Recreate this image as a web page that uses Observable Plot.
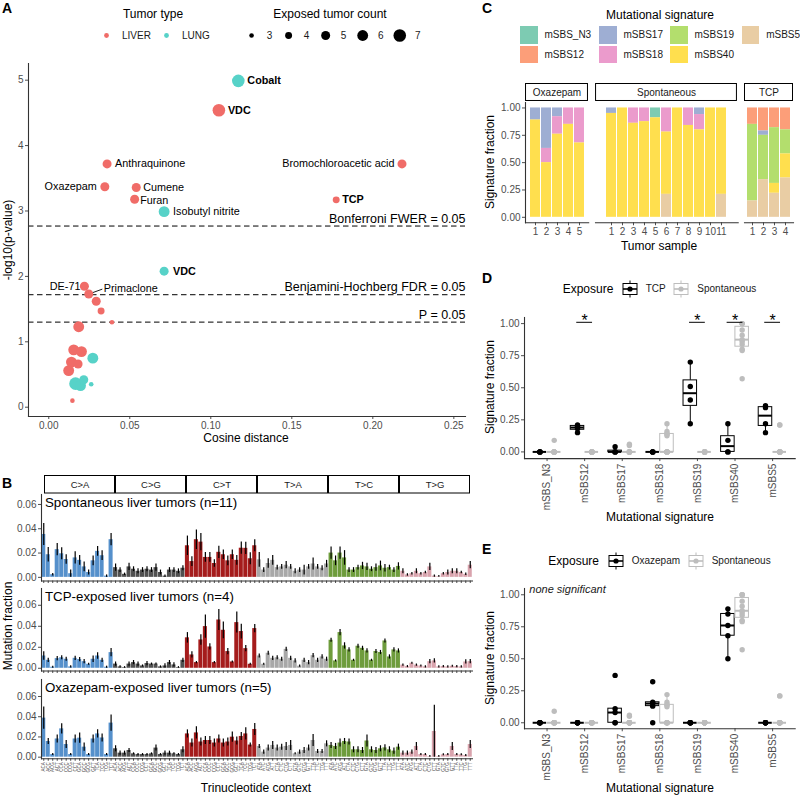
<!DOCTYPE html>
<html>
<head>
<meta charset="utf-8">
<script src="https://cdn.jsdelivr.net/npm/d3@7"></script>
<script src="https://cdn.jsdelivr.net/npm/@observablehq/plot@0.6"></script>
<style>
  html, body { margin: 0; padding: 0; background: #fff; }
  #fig { position: relative; width: 800px; height: 796px; overflow: hidden; font-family: "Liberation Sans", Arial, sans-serif; }
  #fig svg { position: absolute; overflow: visible; }
  .t { position: absolute; white-space: nowrap; line-height: 1; }
</style>
</head>
<body>
<div id="fig"></div>
<script>
// ---------- Panel A: agents, cosine distance vs. significance ----------
const agentLabel = ["Cobalt", "VDC", "Anthraquinone", "Oxazepam", "Cumene", "Furan", "Isobutyl nitrite", "TCP",
  "Bromochloroacetic acid", "VDC", "DE-71", "Primaclone", "", "", "", "", "", "", "", "", "", "", "", "", "", "", ""];
const tumorType = ["LUNG", "LIVER", "LIVER", "LIVER", "LIVER", "LIVER", "LUNG", "LIVER",
  "LIVER", "LUNG", "LIVER", "LIVER", "LIVER", "LIVER", "LIVER", "LIVER", "LIVER", "LIVER", "LIVER", "LIVER", "LIVER",
  "LUNG", "LUNG", "LUNG", "LUNG", "LUNG", "LIVER"];
const cosineDist = [0.117, 0.105, 0.036, 0.0346, 0.054, 0.053, 0.0712, 0.1774,
  0.218, 0.0712, 0.022, 0.0247, 0.0293, 0.0323, 0.039, 0.0185, 0.0154, 0.0202, 0.0140, 0.0181, 0.0123,
  0.0272, 0.0165, 0.0216, 0.0196, 0.0262, 0.0146];
const negLog10P = [4.99, 4.54, 3.72, 3.37, 3.36, 3.18, 2.99, 3.17,
  3.72, 2.08, 1.85, 1.73, 1.62, 1.47, 1.30, 1.23, 0.877, 0.85, 0.69, 0.66, 0.56,
  0.75, 0.36, 0.42, 0.33, 0.35, 0.10];
const exposedCount = [7, 7, 5, 5, 5, 5, 6, 4,
  5, 5, 5, 5, 5, 4, 3, 6, 6, 6, 6, 5, 6,
  6, 7, 5, 6, 3, 3];
const thresholdNames = ["Bonferroni FWER = 0.05", "Benjamini-Hochberg FDR = 0.05", "P = 0.05"];
const thresholdValues = [2.77, 1.72, 1.301];
const cosineTicks = [0, 0.05, 0.10, 0.15, 0.20, 0.25];
const pTicks = [0, 1, 2, 3, 4, 5];
const countLevels = [3, 4, 5, 6, 7];
const tumorTypes = ["LIVER", "LUNG"];

// ---------- Panel B: 96-channel trinucleotide spectra ----------
const mutTypes = ["C>A", "C>G", "C>T", "T>A", "T>C", "T>G"];
const flankBases = ["A", "C", "G", "T"];
const spontaneousFrac = [
  .0353, .0186, .0022, .0228, .0194, .0147, .0030, .0160, .0140, .0086, .0040, .0136, .0214, .0178, .0010, .0310,
  .0080, .0060, .0025, .0086, .0067, .0050, .0060, .0067, .0060, .0080, .0040, .0010, .0060, .0060, .0050, .0075,
  .0260, .0130, .0310, .0290, .0164, .0164, .0114, .0206, .0186, .0136, .0186, .0140, .0240, .0239, .0153, .0260,
  .0144, .0060, .0114, .0140, .0080, .0086, .0100, .0086, .0050, .0060, .0060, .0086, .0110, .0086, .0075, .0110,
  .0200, .0136, .0200, .0160, .0060, .0060, .0080, .0094, .0086, .0067, .0080, .0094, .0075, .0080, .0060, .0090,
  .0050, .0020, .0030, .0050, .0030, .0040, .0086, .0010, .0005, .0030, .0040, .0050, .0050, .0040, .0025, .0100];
const spontaneousErr = [
  .009, .006, .001, .005, .005, .004, .003, .005, .004, .004, .002, .004, .004, .004, .001, .005,
  .003, .002, .001, .003, .002, .002, .002, .002, .002, .003, .002, .001, .002, .002, .002, .002,
  .008, .004, .008, .007, .004, .004, .003, .005, .004, .004, .004, .004, .005, .005, .005, .005,
  .006, .002, .004, .004, .002, .002, .003, .002, .002, .002, .004, .002, .005, .002, .002, .003,
  .005, .004, .005, .006, .002, .002, .002, .003, .003, .002, .003, .004, .003, .002, .002, .003,
  .002, .001, .001, .002, .001, .001, .003, .001, .001, .001, .002, .002, .002, .001, .001, .003];
const tcpFrac = [
  .0117, .0076, .0010, .0092, .0100, .0086, .0013, .0095, .0083, .0063, .0038, .0086, .0117, .0076, .0010, .0149,
  .0040, .0013, .0006, .0040, .0054, .0040, .0022, .0045, .0040, .0040, .0013, .0022, .0054, .0032, .0006, .0076,
  .0290, .0127, .0054, .0270, .0397, .0203, .0054, .0460, .0362, .0159, .0060, .0435, .0350, .0187, .0038, .0378,
  .0117, .0038, .0143, .0095, .0100, .0086, .0180, .0095, .0070, .0020, .0076, .0054, .0120, .0076, .0108, .0086,
  .0267, .0070, .0340, .0213, .0175, .0076, .0210, .0190, .0165, .0076, .0160, .0150, .0260, .0108, .0175, .0165,
  .0030, .0016, .0048, .0030, .0022, .0013, .0063, .0070, .0013, .0016, .0013, .0019, .0016, .0013, .0060, .0063];
const tcpErr = [
  .004, .002, .001, .002, .002, .002, .001, .002, .002, .002, .001, .003, .003, .002, .001, .004,
  .002, .001, .001, .002, .002, .002, .001, .002, .001, .001, .001, .002, .002, .002, .001, .002,
  .005, .003, .001, .005, .011, .003, .001, .010, .008, .003, .001, .010, .007, .003, .001, .004,
  .002, .001, .002, .002, .002, .002, .002, .002, .002, .001, .002, .002, .002, .002, .002, .002,
  .002, .001, .003, .003, .002, .001, .002, .002, .002, .001, .002, .002, .002, .002, .002, .002,
  .001, .001, .001, .001, .001, .001, .002, .002, .001, .001, .001, .001, .001, .001, .002, .002];
const oxazepamFrac = [
  .0386, .0155, .0026, .0180, .0280, .0125, .0026, .0180, .0188, .0099, .0026, .0180, .0230, .0190, .0026, .0337,
  .0083, .0040, .0040, .0066, .0033, .0026, .0026, .0026, .0033, .0090, .0026, .0040, .0040, .0033, .0026, .0073,
  .0230, .0140, .0240, .0150, .0165, .0165, .0140, .0180, .0140, .0150, .0198, .0160, .0205, .0230, .0120, .0274,
  .0106, .0050, .0090, .0116, .0090, .0099, .0106, .0116, .0033, .0050, .0066, .0090, .0165, .0056, .0056, .0132,
  .0116, .0106, .0140, .0155, .0150, .0073, .0073, .0066, .0160, .0073, .0066, .0083, .0092, .0073, .0060, .0099,
  .0040, .0040, .0050, .0106, .0026, .0026, .0006, .0254, .0006, .0023, .0026, .0106, .0026, .0023, .0016, .0125];
const oxazepamErr = [
  .011, .003, .001, .004, .005, .004, .001, .004, .005, .004, .001, .004, .004, .004, .001, .008,
  .003, .002, .002, .002, .001, .001, .001, .001, .001, .003, .001, .002, .002, .001, .001, .003,
  .004, .004, .006, .004, .004, .004, .004, .004, .004, .004, .005, .004, .004, .006, .002, .006,
  .002, .002, .003, .004, .003, .003, .004, .005, .001, .002, .003, .003, .006, .002, .002, .003,
  .003, .003, .004, .003, .003, .003, .003, .003, .006, .003, .003, .003, .003, .003, .003, .003,
  .002, .002, .002, .004, .001, .001, .001, .026, .001, .001, .001, .004, .001, .001, .001, .004];
const spectrumTicks = [0, 0.02, 0.04, 0.06];

// ---------- Panels C-E: signature fractions per tumor ----------
const sigNames = ["mSBS_N3", "mSBS12", "mSBS17", "mSBS18", "mSBS19", "mSBS40", "mSBS5"];
// one row per tumor sample, columns in sigNames order
const oxazepamSig = [
  [0, 0, 0.11, 0, 0, 0.89, 0],
  [0, 0, 0.37, 0.13, 0, 0.50, 0],
  [0, 0, 0.08, 0.16, 0, 0.76, 0],
  [0, 0, 0, 0.15, 0, 0.85, 0],
  [0, 0, 0, 0.32, 0, 0.68, 0]];
const spontaneousSig = [
  [0, 0, 0.05, 0, 0, 0.95, 0],
  [0, 0, 0, 0, 0, 1.00, 0],
  [0, 0, 0, 0.14, 0, 0.86, 0],
  [0, 0, 0, 0.125, 0, 0.875, 0],
  [0.09, 0, 0, 0, 0, 0.91, 0],
  [0, 0, 0, 0.22, 0, 0.57, 0.21],
  [0, 0, 0, 0, 0, 1.00, 0],
  [0, 0, 0, 0.16, 0, 0.84, 0],
  [0, 0, 0.06, 0.14, 0, 0.80, 0],
  [0, 0, 0, 0, 0, 1.00, 0],
  [0, 0, 0, 0, 0, 0.79, 0.21]];
const tcpSig = [
  [0, 0.15, 0, 0, 0.70, 0, 0.15],
  [0, 0.21, 0.04, 0, 0.405, 0, 0.345],
  [0, 0.18, 0, 0, 0.51, 0.09, 0.22],
  [0, 0.20, 0, 0, 0.22, 0.22, 0.36]];
const fractionTicks = [0, 0.25, 0.5, 0.75, 1];
const significantTCP = ["mSBS12", "mSBS19", "mSBS40", "mSBS5"];
const significantOxazepam = [];

// ---------- styling ----------
const FONT = '"Liberation Sans", Arial, sans-serif';
const TICK = "#4d4d4d";
const AXIS = "#333";
const typeColors = ["#f06c68", "#57d2c8"];
const mutColors = ["#5590cb", "#505050", "#a51c1c", "#a8a8a8", "#6e9c3c", "#d9a3ad"];
const sigColors = ["#66C2A5", "#FC8D62", "#8DA0CB", "#E78AC3", "#A6D854", "#FFD92F", "#E5C494"];
const sigOpacity = 0.85;
const stackOrder = ["mSBS5", "mSBS40", "mSBS19", "mSBS18", "mSBS17", "mSBS12", "mSBS_N3"];
const GREY = "#bdbdbd";

const fig = document.getElementById("fig");

function text(str, x, y, o = {}) {
  const {anchor = "start", size = 12, weight = "normal", italic = false, color = "#000", rotate = 0} = o;
  const d = document.createElement("div");
  d.className = "t";
  d.textContent = str;
  const tx = anchor === "start" ? "0%" : anchor === "middle" ? "-50%" : "-100%";
  d.style.left = x + "px";
  d.style.top = y + "px";
  d.style.fontSize = size + "px";
  d.style.fontWeight = weight;
  d.style.color = color;
  if (italic) d.style.fontStyle = "italic";
  d.style.transform = `translate(${tx}, -50%)` + (rotate ? ` rotate(${rotate}deg)` : "");
  fig.appendChild(d);
  return d;
}

// Place a Plot so that its inner frame covers [x0,x1] x [y0,y1] on the page.
function place(spec, [x0, x1], [y0, y1], m = {}) {
  const {l = 0, r = 0, t = 0, b = 0} = m;
  const svg = Plot.plot({
    width: x1 - x0 + l + r,
    height: y1 - y0 + t + b,
    marginLeft: l, marginRight: r, marginTop: t, marginBottom: b,
    style: {fontFamily: FONT, fontSize: "10px", color: TICK, background: "transparent", overflow: "visible"},
    ...spec
  });
  svg.style.left = (x0 - l) + "px";
  svg.style.top = (y0 - t) + "px";
  svg.style.maxWidth = "none";
  fig.appendChild(svg);
  return svg;
}

const axisLines = () => [
  Plot.frame({anchor: "left", stroke: AXIS, strokeWidth: 1.1}),
  Plot.frame({anchor: "bottom", stroke: AXIS, strokeWidth: 1.1})
];

// ===================== Panel A =====================
text("A", 2, 8, {size: 14, weight: "bold"});
text("Tumor type", 153, 14, {anchor: "middle", size: 12});
text("Exposed tumor count", 330, 14, {anchor: "middle", size: 12});

const sizeScale = {type: "sqrt", domain: [3, 7], range: [2.3, 6.3]};

// legend keys drawn with the same colour and size scales
place({
  x: {domain: [0, 1], axis: null}, y: {domain: [0, 1], axis: null},
  color: {domain: tumorTypes, range: typeColors},
  marks: [
    Plot.dot(tumorTypes, {x: (d, i) => i, y: () => 0.5, r: 2.4, fill: d => d}),
    Plot.text(tumorTypes, {x: (d, i) => i, y: () => 0.5, text: d => d, dx: 15.5, textAnchor: "start", fontSize: 10, fill: "#1a1a1a"})
  ]
}, [106, 166], [25, 45]);
place({
  x: {domain: [3, 7], axis: null}, y: {domain: [0, 1], axis: null},
  r: sizeScale,
  marks: [
    Plot.dot(countLevels, {x: d => d, y: () => 0.5, r: d => d, fill: "#000"}),
    Plot.text(countLevels, {x: d => d, y: () => 0.5, text: d => String(d), dx: 18, textAnchor: "middle", fontSize: 10, fill: "#1a1a1a"})
  ]
}, [250.7, 399], [25, 45]);

const aRows = agentLabel.map((name, i) => ({name, type: tumorType[i], cos: cosineDist[i], p: negLog10P[i], n: exposedCount[i]}));
// where each agent name sits relative to its point
const labelPlacement = {
  0: {dx: 9, bold: true}, 1: {dx: 9, bold: true}, 2: {dx: 8}, 3: {dx: -8}, 4: {dx: 7, dy: 0.5},
  5: {dx: 5.5, dy: 1.5}, 6: {dx: 9}, 7: {dx: 6, bold: true}, 8: {dx: -7.5}, 9: {dx: 9, bold: true},
  10: {dx: -4}, 11: {dx: 15, dy: -6}
};
const leaderShape = {draw(context, l) { context.moveTo(0, 0); context.lineTo(0, -l); }};
const labelMarks = Object.entries(labelPlacement).map(([i, p]) =>
  Plot.text([aRows[+i]], {x: "cos", y: "p", text: "name", dx: p.dx, dy: p.dy || 0,
    textAnchor: p.dx < 0 ? "end" : "start", fontWeight: p.bold ? "bold" : "normal", fontSize: 10.8, fill: "#000"}));

place({
  x: {domain: [-0.0125, 0.2572]},
  y: {domain: [-0.142, 5.255]},
  r: sizeScale,
  color: {domain: tumorTypes, range: typeColors},
  marks: [
    Plot.ruleY(thresholdValues, {stroke: "#000", strokeWidth: 1, strokeDasharray: "5.5,3.5"}),
    Plot.text(thresholdNames, {y: thresholdValues, text: d => d, frameAnchor: "right", textAnchor: "end", dy: -7.5, fontSize: 12.5, fill: "#000"}),
    Plot.vector([aRows[11]], {x: "cos", y: "p", length: 14, rotate: 70, anchor: "start", shape: leaderShape, stroke: "#000", strokeWidth: 0.8}),
    Plot.dot(aRows, {x: "cos", y: "p", r: "n", fill: "type"}),
    ...labelMarks,
    Plot.axisX({ticks: cosineTicks, tickFormat: d3.format(".2f"), tickSize: 3, tickPadding: 2, label: null}),
    Plot.axisY({ticks: pTicks, tickFormat: d3.format("d"), tickSize: 3, tickPadding: 2, label: null}),
    ...axisLines()
  ]
}, [28, 465], [63, 416], {l: 28, r: 5, t: 5, b: 30});
text("-log10(p-value)", 8, 240, {anchor: "middle", size: 12, rotate: -90});
text("Cosine distance", 246, 438, {anchor: "middle", size: 12});

// ===================== Panel B =====================
text("B", 2, 483, {size: 14, weight: "bold"});
const contexts = mutTypes.flatMap(m => flankBases.flatMap(a => flankBases.map(b => `${a}[${m}]${b}`)));
const bX = [41.3, 472.3];

// strip labels for the six substitution classes
place({
  x: {type: "band", domain: mutTypes, padding: 0, axis: null},
  marks: [
    Plot.cell(mutTypes, {x: d => d, fill: "#fff", stroke: "#000", strokeWidth: 1, inset: 0.5}),
    Plot.text(mutTypes, {x: d => d, text: d => d, fontSize: 9.5, fill: "#1a1a1a"})
  ]
}, bX, [475, 493.5]);

function spectrum(vals, errs, yDomain, yRange, withLabels) {
  const rows = contexts.map((c, i) => ({c, type: mutTypes[Math.floor(i / 16)], v: vals[i],
    lo: Math.max(0, vals[i] - errs[i]), hi: vals[i] + errs[i]}));
  return place({
    x: {type: "band", domain: contexts, paddingInner: 0.1, paddingOuter: 0.05},
    y: {domain: yDomain},
    color: {domain: mutTypes, range: mutColors},
    marks: [
      Plot.barY(rows, {x: "c", y: "v", fill: "type"}),
      Plot.ruleX(rows, {x: "c", y1: "lo", y2: "hi", stroke: "#000", strokeWidth: 1.2}),
      Plot.axisY({ticks: spectrumTicks, tickFormat: d3.format(".2f"), tickSize: 3, tickPadding: 2, label: null}),
      Plot.axisX({tickSize: 2.5, tickPadding: 1, label: null, tickRotate: -90, fontSize: 4.5,
        tickFormat: withLabels ? (c => c[0] + c[2] + c[6]) : () => ""}),
      ...axisLines()
    ]
  }, bX, yRange, {l: 42, r: 8, t: 0, b: withLabels ? 20 : 6});
}
spectrum(spontaneousFrac, spontaneousErr, [-0.003, 0.0682], [493.5, 580], false);
spectrum(tcpFrac, tcpErr, [-0.0026, 0.0760], [587.5, 670], false);
spectrum(oxazepamFrac, oxazepamErr, [-0.0016, 0.0768], [679, 758.3], true);
text("Spontaneous liver tumors (n=11)", 45, 503, {size: 13.3});
text("TCP-exposed liver tumors (n=4)", 45, 597, {size: 13.3});
text("Oxazepam-exposed liver tumors (n=5)", 45, 688, {size: 13.3});
text("Mutation fraction", 8, 626, {anchor: "middle", size: 12, rotate: -90});
text("Trinucleotide context", 256, 788, {anchor: "middle", size: 12});

// ===================== Panel C =====================
text("C", 482, 8, {size: 14, weight: "bold"});
text("Mutational signature", 660, 15, {anchor: "middle", size: 12});
const legendC = [[520, 26], [520, 45.5], [599, 26], [599, 45.5], [670, 26], [670, 45.5], [741.7, 26]];
sigNames.forEach((s, i) => {
  const [x, y] = legendC[i];
  const k = document.createElement("div");
  k.style.cssText = `position:absolute;left:${x}px;top:${y}px;width:17.5px;height:17.5px;background:${sigColors[i]};opacity:${sigOpacity};`;
  fig.appendChild(k);
  text(s, x + 24.5, y + 9, {size: 10, color: "#1a1a1a"});
});

function sigFacet(name, mat, xRange, outer, withY) {
  const samples = mat.map((_, i) => String(i + 1));
  const rows = mat.flatMap((r, i) => sigNames.map((sig, j) => ({s: samples[i], sig, f: r[j]})));
  place({
    x: {type: "band", domain: [name], padding: 0, axis: null},
    marks: [
      Plot.cell([name], {x: d => d, fill: "#fff", stroke: "#000", strokeWidth: 1, inset: 0.5}),
      Plot.text([name], {x: d => d, text: d => d, fontSize: 10, fill: "#1a1a1a"})
    ]
  }, xRange, [83.3, 101.3]);
  place({
    x: {type: "band", domain: samples, paddingInner: 0.1, paddingOuter: outer},
    y: {domain: [-0.05, 1.05]},
    color: {domain: sigNames, range: sigColors},
    marks: [
      Plot.barY(rows, {x: "s", y: "f", fill: "sig", order: stackOrder, fillOpacity: sigOpacity}),
      Plot.axisX({tickSize: 3, tickPadding: 2, label: null, fontSize: 10}),
      ...(withY ? [Plot.axisY({ticks: fractionTicks, tickFormat: d3.format(".2f"), tickSize: 3, tickPadding: 2, label: null}),
        Plot.frame({anchor: "left", stroke: AXIS, strokeWidth: 1.1})] : [Plot.axisY({ticks: [], label: null})]),
      Plot.frame({anchor: "bottom", stroke: AXIS, strokeWidth: 1.1})
    ]
  }, xRange, [102.2, 222.5], {l: withY ? 30 : 0, r: 0, t: 0, b: 20});
}
sigFacet("Oxazepam", oxazepamSig, [524.5, 587.7], 0.24, true);
sigFacet("Spontaneous", spontaneousSig, [595, 737.7], 0.55, false);
sigFacet("TCP", tcpSig, [744.3, 793.3], 0.19, false);
text("Signature fraction", 490, 162, {anchor: "middle", size: 12, rotate: -90});
text("Tumor sample", 659, 246, {anchor: "middle", size: 12});

// ===================== Panels D & E =====================
function boxKey(cx, cy, color) {
  const ns = "http://www.w3.org/2000/svg";
  const s = document.createElementNS(ns, "svg");
  s.setAttribute("width", 18); s.setAttribute("height", 18);
  s.style.left = (cx - 9) + "px"; s.style.top = (cy - 9) + "px";
  s.innerHTML = `<line x1="9" x2="9" y1="0.5" y2="17.5" stroke="${color}" stroke-width="1"/>` +
    `<rect x="2" y="3.5" width="14" height="11" fill="#fff" stroke="${color}" stroke-width="1"/>` +
    `<line x1="2" x2="16" y1="9" y2="9" stroke="${color}" stroke-width="1.6"/>` +
    `<circle cx="9" cy="9" r="2.6" fill="${color}"/>`;
  fig.appendChild(s);
}

function boxStats(vals) {
  const s = vals.slice().sort(d3.ascending);
  const q1 = d3.quantileSorted(s, 0.25), med = d3.quantileSorted(s, 0.5), q3 = d3.quantileSorted(s, 0.75);
  const iqr = q3 - q1;
  return {q1, med, q3, lo: d3.min(s.filter(v => v >= q1 - 1.5 * iqr)), hi: d3.max(s.filter(v => v <= q3 + 1.5 * iqr))};
}

function boxPanel(groups, significant, yDomain, yRange) {
  const half = 0.18;
  const marks = [];
  for (const g of groups) {
    const boxes = sigNames.map((sig, j) => ({x: j + g.off, ...boxStats(g.mat.map(r => r[j]))}));
    marks.push(
      Plot.ruleX(boxes, {x: "x", y1: "lo", y2: "q1", stroke: g.color, strokeWidth: 1}),
      Plot.ruleX(boxes, {x: "x", y1: "q3", y2: "hi", stroke: g.color, strokeWidth: 1}),
      Plot.rect(boxes, {x1: d => d.x - half, x2: d => d.x + half, y1: "q1", y2: "q3", fill: "#fff", stroke: g.color, strokeWidth: 1}),
      Plot.ruleY(boxes, {y: "med", x1: d => d.x - half, x2: d => d.x + half, stroke: g.color, strokeWidth: 2})
    );
  }
  for (const g of groups) {
    const pts = g.mat.flatMap(r => r.map((v, j) => ({x: j + g.off, v})));
    marks.push(Plot.dot(pts, {x: "x", y: "v", r: 2.7, fill: g.color}));
  }
  marks.push(
    Plot.ruleY(significant, {y: () => 1.01, x1: d => sigNames.indexOf(d) - 0.21, x2: d => sigNames.indexOf(d) + 0.21, stroke: "#000", strokeWidth: 1}),
    Plot.text(significant, {x: d => sigNames.indexOf(d), y: () => 1.01, text: () => "*", dy: -1, fontSize: 16, fill: "#000"}),
    Plot.axisY({ticks: fractionTicks, tickFormat: d3.format(".2f"), tickSize: 3, tickPadding: 2, label: null}),
    Plot.axisX({ticks: d3.range(sigNames.length), tickFormat: i => sigNames[i], tickRotate: -90, tickSize: 3, tickPadding: 2, label: null, fontSize: 10}),
    ...axisLines()
  );
  place({x: {domain: [-0.6, 6.6]}, y: {domain: yDomain}, marks}, [524.3, 795], yRange, {l: 32, r: 3, t: 5, b: 55});
}

// Panel D
text("D", 482, 278, {size: 14, weight: "bold"});
text("Exposure", 562.7, 289.3, {size: 12});
boxKey(629.7, 289.3, "#000");
text("TCP", 645.7, 289.3, {size: 10, color: "#1a1a1a"});
boxKey(681.3, 289.3, GREY);
text("Spontaneous", 697.3, 289.3, {size: 10, color: "#1a1a1a"});
boxPanel([{mat: tcpSig, color: "#000", off: -0.19}, {mat: spontaneousSig, color: GREY, off: 0.19}],
  significantTCP, [-0.052, 1.0475], [316.6, 457.7]);
text("Signature fraction", 490, 387, {anchor: "middle", size: 12, rotate: -90});
text("Mutational signature", 660, 517, {anchor: "middle", size: 12});

// Panel E
text("E", 482, 549, {size: 14, weight: "bold"});
text("Exposure", 548.3, 561, {size: 12});
boxKey(615.5, 561, "#000");
text("Oxazepam", 631.7, 561, {size: 10, color: "#1a1a1a"});
boxKey(695.7, 561, GREY);
text("Spontaneous", 711.7, 561, {size: 10, color: "#1a1a1a"});
boxPanel([{mat: oxazepamSig, color: "#000", off: -0.19}, {mat: spontaneousSig, color: GREY, off: 0.19}],
  significantOxazepam, [-0.047, 1.049], [588, 728.3]);
text("none significant", 529.3, 589, {size: 11, italic: true, color: "#1a1a1a"});
text("Signature fraction", 490, 658, {anchor: "middle", size: 12, rotate: -90});
text("Mutational signature", 660, 788, {anchor: "middle", size: 12});
</script>
</body>
</html>
